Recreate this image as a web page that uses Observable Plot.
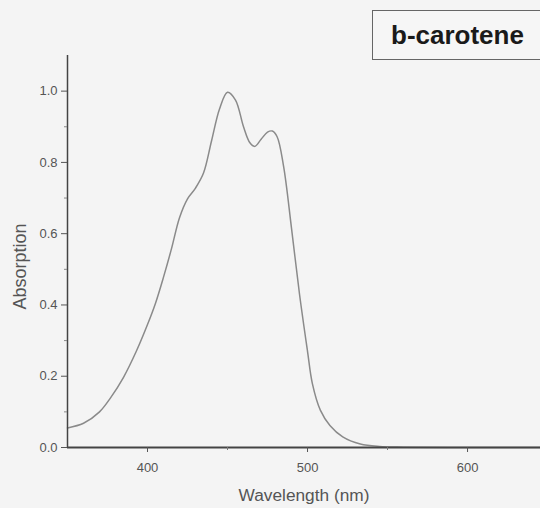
<!DOCTYPE html>
<html>
<head>
<meta charset="utf-8">
<script src="https://cdn.jsdelivr.net/npm/d3@7"></script>
<script src="https://cdn.jsdelivr.net/npm/@observablehq/plot@0.6"></script>
<style>
  html, body { margin: 0; padding: 0; background: #f4f4f4; }
  #wrap { position: relative; width: 540px; height: 508px; overflow: hidden; }
  #label {
    position: absolute; left: 372px; top: 10px; width: 190px; height: 50px;
    box-sizing: border-box; border: 1px solid #666; background: #f6f6f6;
    font-family: "Liberation Sans", Arial, sans-serif; font-weight: bold; font-size: 26px;
    color: #1a1a1a; line-height: 48px; padding-left: 18px; white-space: nowrap;
  }
</style>
</head>
<body>
<div id="wrap"><div id="label">b-carotene</div></div>
<script>
const wavelength = [350, 360, 370, 377, 385, 393, 400, 405, 410, 415, 420, 425, 430, 435, 440, 445, 450, 455, 460, 464, 467, 471, 475, 478, 481, 485, 490, 495, 500, 503, 508, 514, 522, 533, 545, 560, 600, 645];
const absorption = [0.055, 0.068, 0.10, 0.14, 0.197, 0.27, 0.345, 0.405, 0.478, 0.558, 0.645, 0.698, 0.728, 0.77, 0.86, 0.95, 0.997, 0.975, 0.90, 0.855, 0.845, 0.865, 0.885, 0.888, 0.872, 0.79, 0.615, 0.43, 0.27, 0.18, 0.105, 0.062, 0.03, 0.01, 0.003, 0.001, 0.0, 0.0];
const xMajorTicks = [400, 500, 600];
const xMinorTicks = [450, 550];
const yMajorTicks = [0, 0.2, 0.4, 0.6, 0.8, 1.0];
const yMinorTicks = [0.1, 0.3, 0.5, 0.7, 0.9];

const data = wavelength.map((w, i) => ({w, a: absorption[i]}));
const font = "Liberation Sans, Arial, sans-serif";

const chart = Plot.plot({
  width: 540,
  height: 508,
  marginLeft: 67,
  marginRight: 0,
  marginTop: 55,
  marginBottom: 61,
  style: {background: "transparent", fontFamily: font, color: "#555"},
  x: {domain: [350, 645.6]},
  y: {domain: [0, 1.1]},
  marks: [
    Plot.line(data, {x: "w", y: "a", curve: "catmull-rom", stroke: "#8a8a8a", strokeWidth: 1.5}),
    Plot.ruleX([350], {stroke: "#444", strokeWidth: 1.5}),
    Plot.ruleY([0], {stroke: "#444", strokeWidth: 2}),
    Plot.axisX({ticks: xMajorTicks, tickSize: 5, tickPadding: 10, fontSize: 13, stroke: "#555", fill: "#555",
      label: "Wavelength (nm)", labelAnchor: "center", labelArrow: "none", labelOffset: 53}),
    Plot.axisX({ticks: xMinorTicks, tickSize: 3, tickFormat: () => "", stroke: "#777", label: null}),
    Plot.axisY({ticks: yMajorTicks, tickSize: 6, tickPadding: 4, fontSize: 13, tickFormat: d3.format(".1f"), stroke: "#555", fill: "#555",
      label: "Absorption", labelAnchor: "center", labelArrow: "none", labelOffset: 54}),
    Plot.axisY({ticks: yMinorTicks, tickSize: 3, tickFormat: () => "", stroke: "#888", label: null})
  ]
});
chart.style.position = "absolute";
chart.style.left = "0";
chart.style.top = "0";
chart.querySelectorAll("g[aria-label='x-axis label'] text").forEach(t => {
  t.setAttribute("font-size", "17.3");
});
chart.querySelectorAll("g[aria-label='y-axis label']").forEach(g => {
  g.setAttribute("transform", (g.getAttribute("transform") || "") + " translate(0,15)");
  g.querySelectorAll("text").forEach(t => t.setAttribute("font-size", "18"));
});
document.getElementById("wrap").prepend(chart);
</script>
</body>
</html>
